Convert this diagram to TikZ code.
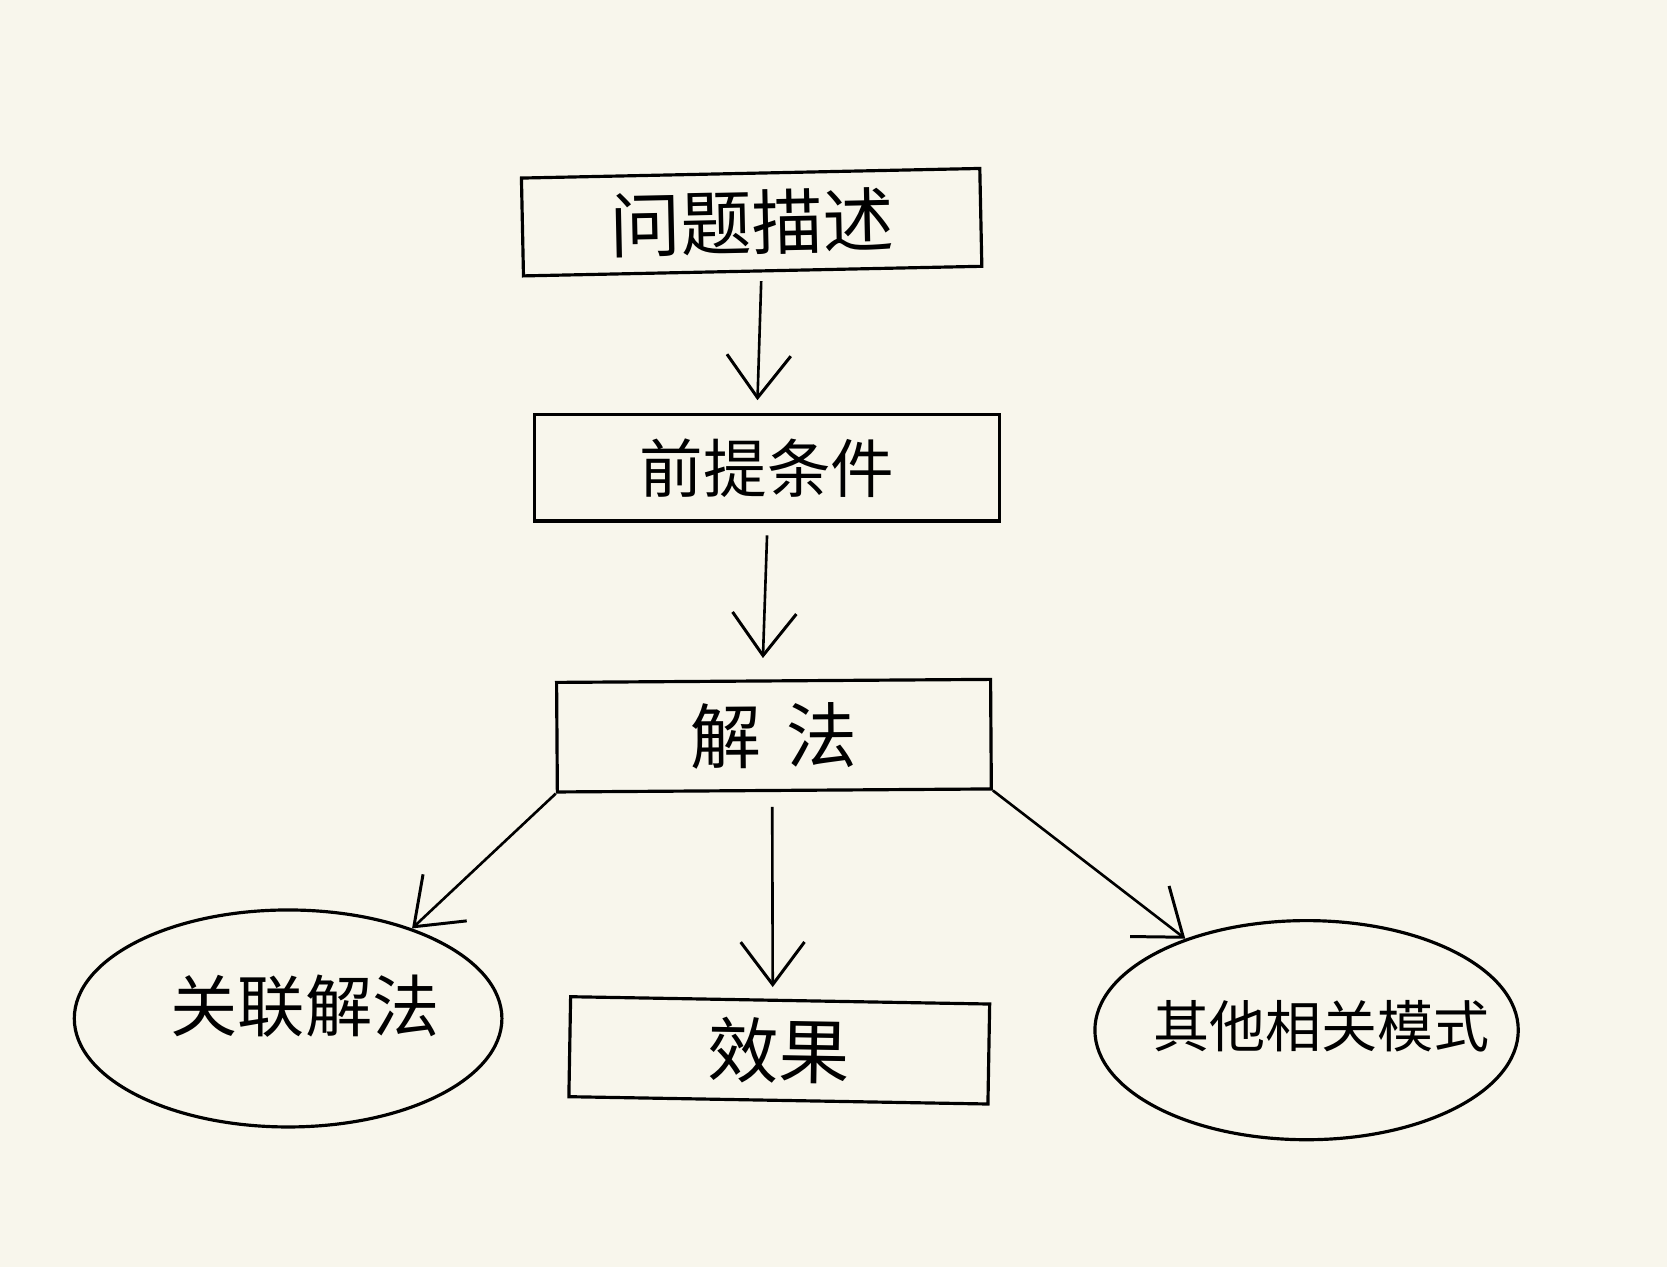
\documentclass[tikz,border=0pt]{standalone}
\usepackage{fontspec}
\newfontfamily\cjk{Noto Sans CJK SC}
\usetikzlibrary{arrows.meta,shapes.geometric}
\definecolor{paper}{HTML}{F8F6EC}
\tikzset{
  box/.style={draw=black, line width=0.85pt, rectangle, inner sep=0pt, font=\cjk},
  oval/.style={draw=black, line width=0.85pt, ellipse, inner sep=0pt},
  arr/.style={line width=0.7pt, -{Straight Barb[length=0.4cm,width=0.6cm,line width=0.8pt]}}
}
\begin{document}
\begin{tikzpicture}[x=0.01cm,y=-0.01cm]
\fill[paper] (0,0) rectangle (1568,1192);
\useasboundingbox (0,0) rectangle (1568,1192);

\node[box, minimum width=4.31cm, minimum height=0.92cm, rotate=1.2, font=\cjk\fontsize{19}{22}\selectfont] (b1) at (707,209) {问题描述};
\node[box, minimum width=4.37cm, minimum height=1.0cm, font=\cjk\fontsize{17}{20}\selectfont] (b2) at (721.5,440) {前提条件};
\node[box, minimum width=4.08cm, minimum height=1.03cm, rotate=0.4, font=\cjk\fontsize{19}{22}\selectfont] (b3) at (728,692) {解\hspace{0.35em}法};
\node[box, minimum width=3.94cm, minimum height=0.94cm, rotate=-1, font=\cjk\fontsize{19}{22}\selectfont] (b4) at (733,988) {效果};
\node[oval, minimum width=4.02cm, minimum height=2.04cm,
  label={[font=\cjk\fontsize{18}{21}\selectfont, xshift=0.16cm, yshift=0.12cm]center:关联解法}] (e1) at (271,958) {};
\node[oval, minimum width=3.98cm, minimum height=2.06cm,
  label={[font=\cjk\fontsize{15}{18}\selectfont, xshift=0.14cm, yshift=0.04cm]center:其他相关模式}] (e2) at (1229,969) {};

\draw[arr] ([xshift=0.08cm,yshift=-0.08cm]b1.south) -- ([xshift=-0.09cm,yshift=0.12cm]b2.north);
\draw[arr] ([yshift=-0.12cm]b2.south) -- ([xshift=-0.1cm,yshift=0.2cm]b3.north);
\draw[arr] (b3.south west) -- (e1.36);
\draw[arr] ([xshift=-0.02cm,yshift=-0.14cm]b3.south) -- ([xshift=-0.07cm,yshift=0.11cm]b4.north);
\draw[arr] (b3.south east) -- (e2.143);
\end{tikzpicture}
\end{document}
